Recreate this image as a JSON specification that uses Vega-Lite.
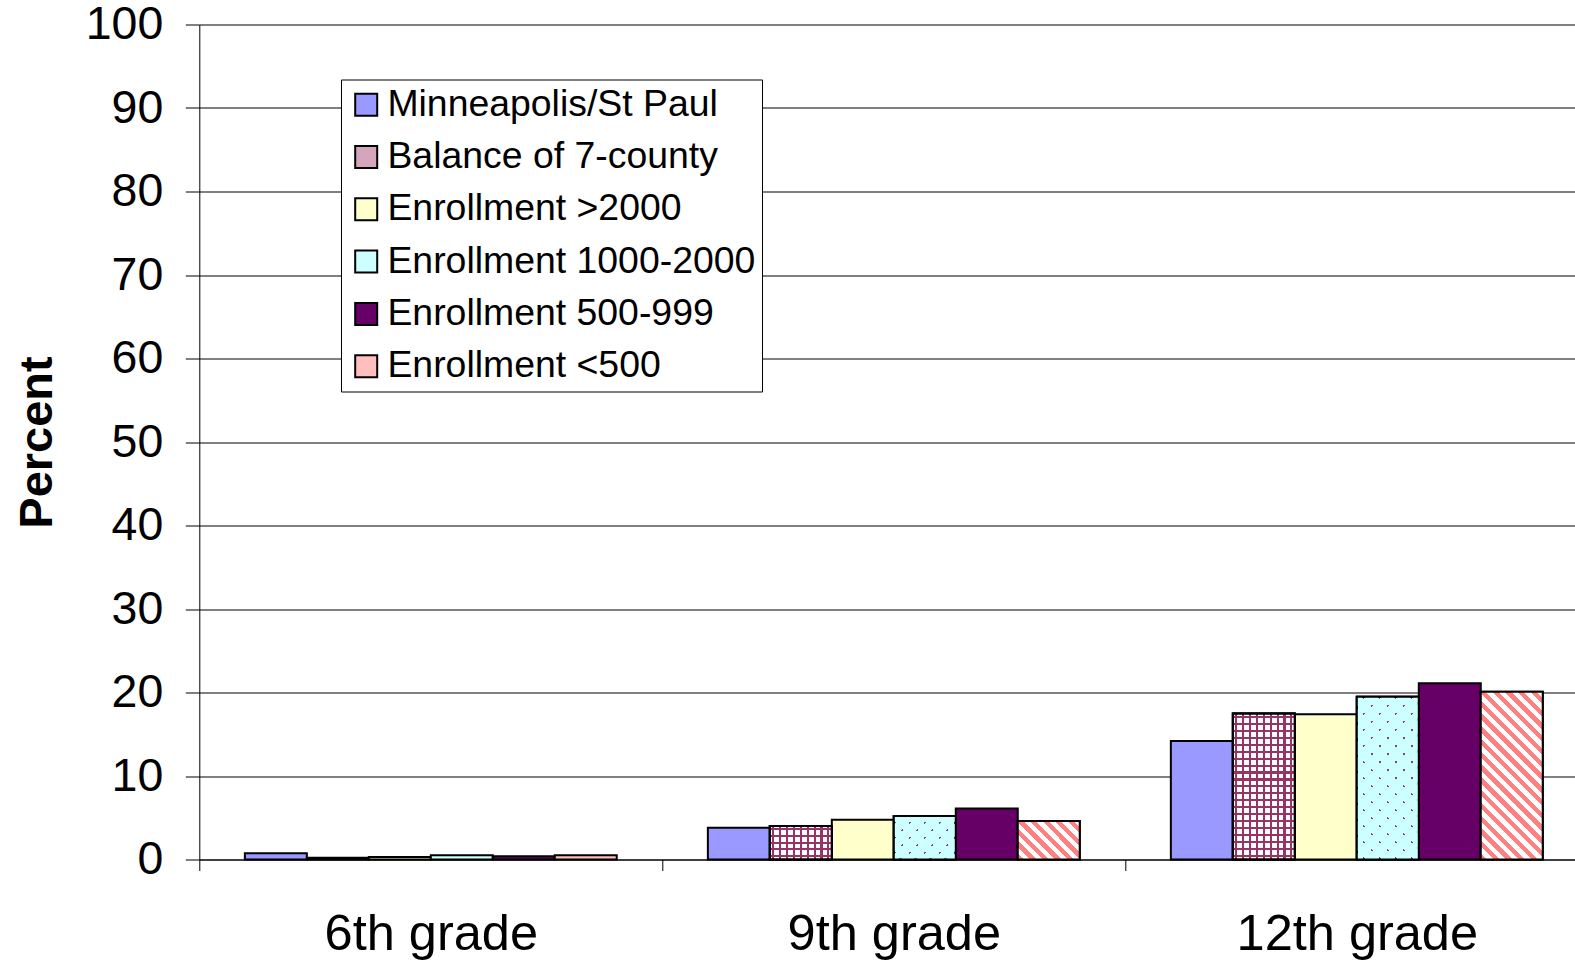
{
  "$schema": "https://vega.github.io/schema/vega-lite/v6.json",
  "width": 1375.7,
  "height": 835,
  "autosize": {"type": "none"},
  "padding": {"left": 199.3, "top": 24.5, "right": 0, "bottom": 101.5},
  "config": {"view": {"stroke": null}, "font": "Liberation Sans"},
  "data": {"values": [
    {"grade": "6th grade", "group": "Minneapolis/St Paul", "value": 0.75},
    {"grade": "6th grade", "group": "Balance of 7-county", "value": 0.2},
    {"grade": "6th grade", "group": "Enrollment >2000", "value": 0.3},
    {"grade": "6th grade", "group": "Enrollment 1000-2000", "value": 0.5},
    {"grade": "6th grade", "group": "Enrollment 500-999", "value": 0.4},
    {"grade": "6th grade", "group": "Enrollment <500", "value": 0.5},
    {"grade": "9th grade", "group": "Minneapolis/St Paul", "value": 3.8},
    {"grade": "9th grade", "group": "Balance of 7-county", "value": 4.0},
    {"grade": "9th grade", "group": "Enrollment >2000", "value": 4.75},
    {"grade": "9th grade", "group": "Enrollment 1000-2000", "value": 5.2},
    {"grade": "9th grade", "group": "Enrollment 500-999", "value": 6.1},
    {"grade": "9th grade", "group": "Enrollment <500", "value": 4.6},
    {"grade": "12th grade", "group": "Minneapolis/St Paul", "value": 14.2},
    {"grade": "12th grade", "group": "Balance of 7-county", "value": 17.5},
    {"grade": "12th grade", "group": "Enrollment >2000", "value": 17.4},
    {"grade": "12th grade", "group": "Enrollment 1000-2000", "value": 19.5},
    {"grade": "12th grade", "group": "Enrollment 500-999", "value": 21.1},
    {"grade": "12th grade", "group": "Enrollment <500", "value": 20.1}
  ]},
  "encoding": {
    "x": {
      "field": "grade", "type": "nominal",
      "sort": ["6th grade", "9th grade", "12th grade"],
      "scale": {"paddingInner": 0, "paddingOuter": 0, "range": [0, 1389]},
      "axis": {"title": null, "labelAngle": 0, "labelFontSize": 50.5, "labelColor": "black", "labelLimit": 0,
               "domainColor": "black", "tickColor": "black", "tickSize": 11, "tickBand": "extent",
               "labelPadding": 38.5, "grid": false}
    },
    "xOffset": {
      "field": "group", "type": "nominal",
      "sort": ["Minneapolis/St Paul", "Balance of 7-county", "Enrollment >2000", "Enrollment 1000-2000", "Enrollment 500-999", "Enrollment <500"],
      "scale": {"paddingInner": 0, "paddingOuter": 0.735}
    },
    "y": {
      "field": "value", "type": "quantitative",
      "scale": {"domain": [0, 100]},
      "axis": {"title": "Percent", "titleFontSize": 47, "titleFontWeight": "bold", "titleColor": "black",
               "titlePadding": 24, "labelFontSize": 46.5, "labelColor": "black", "tickSize": 14,
               "labelPadding": 22.5, "values": [0, 10, 20, 30, 40, 50, 60, 70, 80, 90, 100],
               "gridColor": "black", "gridOpacity": 1, "domainColor": "black", "tickColor": "black"}
    }
  },
  "layer": [
    {
      "mark": {"type": "bar", "stroke": "black", "strokeWidth": 2},
      "encoding": {
        "fill": {
          "field": "group", "type": "nominal",
          "scale": {
            "domain": ["Minneapolis/St Paul", "Balance of 7-county", "Enrollment >2000", "Enrollment 1000-2000", "Enrollment 500-999", "Enrollment <500"],
            "range": ["#9999ff", "#d4a6bd", "#ffffcc", "#ccffff", "#660066", "#ffbfbf"]
          },
          "legend": {"orient": "none", "legendX": 141.7, "legendY": 55, "title": null,
                     "labelFontSize": 37.4, "labelColor": "black", "symbolType": "square",
                     "symbolSize": 484, "symbolStrokeColor": "black", "symbolStrokeWidth": 2,
                     "fillColor": "white", "strokeColor": "black", "padding": 6.5,
                     "rowPadding": 13.3, "labelOffset": 2.5, "labelLimit": 0}
        }
      }
    },
    {
      "transform": [{"filter": "datum.group === 'Enrollment <500' && datum.grade === '12th grade'"}],
      "mark": {"type": "bar", "stroke": "black", "strokeWidth": 2,
        "fill": {"gradient": "linear", "x1": 0, "y1": 1, "x2": 0.4452, "y2": -0.205, "stops": [
          {"offset": 0, "color": "#ff8080"}, {"offset": 0.0278, "color": "#ff8080"}, {"offset": 0.0278, "color": "#ffffff"}, {"offset": 0.0556, "color": "#ffffff"},
          {"offset": 0.0556, "color": "#ff8080"}, {"offset": 0.0833, "color": "#ff8080"}, {"offset": 0.0833, "color": "#ffffff"}, {"offset": 0.1111, "color": "#ffffff"},
          {"offset": 0.1111, "color": "#ff8080"}, {"offset": 0.1389, "color": "#ff8080"}, {"offset": 0.1389, "color": "#ffffff"}, {"offset": 0.1667, "color": "#ffffff"},
          {"offset": 0.1667, "color": "#ff8080"}, {"offset": 0.1944, "color": "#ff8080"}, {"offset": 0.1944, "color": "#ffffff"}, {"offset": 0.2222, "color": "#ffffff"},
          {"offset": 0.2222, "color": "#ff8080"}, {"offset": 0.25, "color": "#ff8080"}, {"offset": 0.25, "color": "#ffffff"}, {"offset": 0.2778, "color": "#ffffff"},
          {"offset": 0.2778, "color": "#ff8080"}, {"offset": 0.3056, "color": "#ff8080"}, {"offset": 0.3056, "color": "#ffffff"}, {"offset": 0.3333, "color": "#ffffff"},
          {"offset": 0.3333, "color": "#ff8080"}, {"offset": 0.3611, "color": "#ff8080"}, {"offset": 0.3611, "color": "#ffffff"}, {"offset": 0.3889, "color": "#ffffff"},
          {"offset": 0.3889, "color": "#ff8080"}, {"offset": 0.4167, "color": "#ff8080"}, {"offset": 0.4167, "color": "#ffffff"}, {"offset": 0.4444, "color": "#ffffff"},
          {"offset": 0.4444, "color": "#ff8080"}, {"offset": 0.4722, "color": "#ff8080"}, {"offset": 0.4722, "color": "#ffffff"}, {"offset": 0.5, "color": "#ffffff"},
          {"offset": 0.5, "color": "#ff8080"}, {"offset": 0.5278, "color": "#ff8080"}, {"offset": 0.5278, "color": "#ffffff"}, {"offset": 0.5556, "color": "#ffffff"},
          {"offset": 0.5556, "color": "#ff8080"}, {"offset": 0.5833, "color": "#ff8080"}, {"offset": 0.5833, "color": "#ffffff"}, {"offset": 0.6111, "color": "#ffffff"},
          {"offset": 0.6111, "color": "#ff8080"}, {"offset": 0.6389, "color": "#ff8080"}, {"offset": 0.6389, "color": "#ffffff"}, {"offset": 0.6667, "color": "#ffffff"},
          {"offset": 0.6667, "color": "#ff8080"}, {"offset": 0.6944, "color": "#ff8080"}, {"offset": 0.6944, "color": "#ffffff"}, {"offset": 0.7222, "color": "#ffffff"},
          {"offset": 0.7222, "color": "#ff8080"}, {"offset": 0.75, "color": "#ff8080"}, {"offset": 0.75, "color": "#ffffff"}, {"offset": 0.7778, "color": "#ffffff"},
          {"offset": 0.7778, "color": "#ff8080"}, {"offset": 0.8056, "color": "#ff8080"}, {"offset": 0.8056, "color": "#ffffff"}, {"offset": 0.8333, "color": "#ffffff"},
          {"offset": 0.8333, "color": "#ff8080"}, {"offset": 0.8611, "color": "#ff8080"}, {"offset": 0.8611, "color": "#ffffff"}, {"offset": 0.8889, "color": "#ffffff"},
          {"offset": 0.8889, "color": "#ff8080"}, {"offset": 0.9167, "color": "#ff8080"}, {"offset": 0.9167, "color": "#ffffff"}, {"offset": 0.9444, "color": "#ffffff"},
          {"offset": 0.9444, "color": "#ff8080"}, {"offset": 0.9722, "color": "#ff8080"}, {"offset": 0.9722, "color": "#ffffff"}, {"offset": 1, "color": "#ffffff"}
        ]}}
    },
    {
      "transform": [{"filter": "datum.group === 'Enrollment <500' && datum.grade === '9th grade'"}],
      "mark": {"type": "bar", "stroke": "black", "strokeWidth": 2,
        "fill": {"gradient": "linear", "x1": 0, "y1": 1, "x2": 1.1703, "y2": 0.2752, "stops": [
          {"offset": 0, "color": "#ff8080"}, {"offset": 0.0625, "color": "#ff8080"}, {"offset": 0.0625, "color": "#ffffff"}, {"offset": 0.125, "color": "#ffffff"},
          {"offset": 0.125, "color": "#ff8080"}, {"offset": 0.1875, "color": "#ff8080"}, {"offset": 0.1875, "color": "#ffffff"}, {"offset": 0.25, "color": "#ffffff"},
          {"offset": 0.25, "color": "#ff8080"}, {"offset": 0.3125, "color": "#ff8080"}, {"offset": 0.3125, "color": "#ffffff"}, {"offset": 0.375, "color": "#ffffff"},
          {"offset": 0.375, "color": "#ff8080"}, {"offset": 0.4375, "color": "#ff8080"}, {"offset": 0.4375, "color": "#ffffff"}, {"offset": 0.5, "color": "#ffffff"},
          {"offset": 0.5, "color": "#ff8080"}, {"offset": 0.5625, "color": "#ff8080"}, {"offset": 0.5625, "color": "#ffffff"}, {"offset": 0.625, "color": "#ffffff"},
          {"offset": 0.625, "color": "#ff8080"}, {"offset": 0.6875, "color": "#ff8080"}, {"offset": 0.6875, "color": "#ffffff"}, {"offset": 0.75, "color": "#ffffff"},
          {"offset": 0.75, "color": "#ff8080"}, {"offset": 0.8125, "color": "#ff8080"}, {"offset": 0.8125, "color": "#ffffff"}, {"offset": 0.875, "color": "#ffffff"},
          {"offset": 0.875, "color": "#ff8080"}, {"offset": 0.9375, "color": "#ff8080"}, {"offset": 0.9375, "color": "#ffffff"}, {"offset": 1, "color": "#ffffff"}
        ]}}
    },
    {
      "transform": [{"filter": "datum.group === 'Balance of 7-county' && datum.grade !== '6th grade'"}],
      "mark": {"type": "bar", "stroke": "black", "strokeWidth": 2,
        "fill": {"gradient": "linear", "x1": 0, "y1": 0, "x2": 1, "y2": 0, "stops": [
          {"offset": 0, "color": "#ffffff"},
          {"offset": 0.0389, "color": "#ffffff"}, {"offset": 0.0389, "color": "#993366"}, {"offset": 0.0722, "color": "#993366"}, {"offset": 0.0722, "color": "#ffffff"},
          {"offset": 0.15, "color": "#ffffff"}, {"offset": 0.15, "color": "#993366"}, {"offset": 0.1833, "color": "#993366"}, {"offset": 0.1833, "color": "#ffffff"},
          {"offset": 0.2611, "color": "#ffffff"}, {"offset": 0.2611, "color": "#993366"}, {"offset": 0.2944, "color": "#993366"}, {"offset": 0.2944, "color": "#ffffff"},
          {"offset": 0.3722, "color": "#ffffff"}, {"offset": 0.3722, "color": "#993366"}, {"offset": 0.4056, "color": "#993366"}, {"offset": 0.4056, "color": "#ffffff"},
          {"offset": 0.4833, "color": "#ffffff"}, {"offset": 0.4833, "color": "#993366"}, {"offset": 0.5167, "color": "#993366"}, {"offset": 0.5167, "color": "#ffffff"},
          {"offset": 0.5944, "color": "#ffffff"}, {"offset": 0.5944, "color": "#993366"}, {"offset": 0.6278, "color": "#993366"}, {"offset": 0.6278, "color": "#ffffff"},
          {"offset": 0.7056, "color": "#ffffff"}, {"offset": 0.7056, "color": "#993366"}, {"offset": 0.7389, "color": "#993366"}, {"offset": 0.7389, "color": "#ffffff"},
          {"offset": 0.8167, "color": "#ffffff"}, {"offset": 0.8167, "color": "#993366"}, {"offset": 0.85, "color": "#993366"}, {"offset": 0.85, "color": "#ffffff"},
          {"offset": 0.9278, "color": "#ffffff"}, {"offset": 0.9278, "color": "#993366"}, {"offset": 0.9611, "color": "#993366"}, {"offset": 0.9611, "color": "#ffffff"},
          {"offset": 1, "color": "#ffffff"}
        ]}}
    },
    {
      "transform": [{"filter": "datum.group === 'Balance of 7-county' && datum.grade === '12th grade'"}],
      "mark": {"type": "bar", "stroke": "black", "strokeWidth": 2,
        "fill": {"gradient": "linear", "x1": 0, "y1": 0, "x2": 0, "y2": 1, "stops": [
          {"offset": 0, "color": "rgba(255,255,255,0)"},
          {"offset": 0.0167, "color": "rgba(255,255,255,0)"}, {"offset": 0.0167, "color": "#993366"}, {"offset": 0.031, "color": "#993366"}, {"offset": 0.031, "color": "rgba(255,255,255,0)"},
          {"offset": 0.0643, "color": "rgba(255,255,255,0)"}, {"offset": 0.0643, "color": "#993366"}, {"offset": 0.0786, "color": "#993366"}, {"offset": 0.0786, "color": "rgba(255,255,255,0)"},
          {"offset": 0.1119, "color": "rgba(255,255,255,0)"}, {"offset": 0.1119, "color": "#993366"}, {"offset": 0.1262, "color": "#993366"}, {"offset": 0.1262, "color": "rgba(255,255,255,0)"},
          {"offset": 0.1595, "color": "rgba(255,255,255,0)"}, {"offset": 0.1595, "color": "#993366"}, {"offset": 0.1738, "color": "#993366"}, {"offset": 0.1738, "color": "rgba(255,255,255,0)"},
          {"offset": 0.2071, "color": "rgba(255,255,255,0)"}, {"offset": 0.2071, "color": "#993366"}, {"offset": 0.2214, "color": "#993366"}, {"offset": 0.2214, "color": "rgba(255,255,255,0)"},
          {"offset": 0.2548, "color": "rgba(255,255,255,0)"}, {"offset": 0.2548, "color": "#993366"}, {"offset": 0.269, "color": "#993366"}, {"offset": 0.269, "color": "rgba(255,255,255,0)"},
          {"offset": 0.3024, "color": "rgba(255,255,255,0)"}, {"offset": 0.3024, "color": "#993366"}, {"offset": 0.3167, "color": "#993366"}, {"offset": 0.3167, "color": "rgba(255,255,255,0)"},
          {"offset": 0.35, "color": "rgba(255,255,255,0)"}, {"offset": 0.35, "color": "#993366"}, {"offset": 0.3643, "color": "#993366"}, {"offset": 0.3643, "color": "rgba(255,255,255,0)"},
          {"offset": 0.3976, "color": "rgba(255,255,255,0)"}, {"offset": 0.3976, "color": "#993366"}, {"offset": 0.4119, "color": "#993366"}, {"offset": 0.4119, "color": "rgba(255,255,255,0)"},
          {"offset": 0.4452, "color": "rgba(255,255,255,0)"}, {"offset": 0.4452, "color": "#993366"}, {"offset": 0.4595, "color": "#993366"}, {"offset": 0.4595, "color": "rgba(255,255,255,0)"},
          {"offset": 0.4929, "color": "rgba(255,255,255,0)"}, {"offset": 0.4929, "color": "#993366"}, {"offset": 0.5071, "color": "#993366"}, {"offset": 0.5071, "color": "rgba(255,255,255,0)"},
          {"offset": 0.5405, "color": "rgba(255,255,255,0)"}, {"offset": 0.5405, "color": "#993366"}, {"offset": 0.5548, "color": "#993366"}, {"offset": 0.5548, "color": "rgba(255,255,255,0)"},
          {"offset": 0.5881, "color": "rgba(255,255,255,0)"}, {"offset": 0.5881, "color": "#993366"}, {"offset": 0.6024, "color": "#993366"}, {"offset": 0.6024, "color": "rgba(255,255,255,0)"},
          {"offset": 0.6357, "color": "rgba(255,255,255,0)"}, {"offset": 0.6357, "color": "#993366"}, {"offset": 0.65, "color": "#993366"}, {"offset": 0.65, "color": "rgba(255,255,255,0)"},
          {"offset": 0.6833, "color": "rgba(255,255,255,0)"}, {"offset": 0.6833, "color": "#993366"}, {"offset": 0.6976, "color": "#993366"}, {"offset": 0.6976, "color": "rgba(255,255,255,0)"},
          {"offset": 0.731, "color": "rgba(255,255,255,0)"}, {"offset": 0.731, "color": "#993366"}, {"offset": 0.7452, "color": "#993366"}, {"offset": 0.7452, "color": "rgba(255,255,255,0)"},
          {"offset": 0.7786, "color": "rgba(255,255,255,0)"}, {"offset": 0.7786, "color": "#993366"}, {"offset": 0.7929, "color": "#993366"}, {"offset": 0.7929, "color": "rgba(255,255,255,0)"},
          {"offset": 0.8262, "color": "rgba(255,255,255,0)"}, {"offset": 0.8262, "color": "#993366"}, {"offset": 0.8405, "color": "#993366"}, {"offset": 0.8405, "color": "rgba(255,255,255,0)"},
          {"offset": 0.8738, "color": "rgba(255,255,255,0)"}, {"offset": 0.8738, "color": "#993366"}, {"offset": 0.8881, "color": "#993366"}, {"offset": 0.8881, "color": "rgba(255,255,255,0)"},
          {"offset": 0.9214, "color": "rgba(255,255,255,0)"}, {"offset": 0.9214, "color": "#993366"}, {"offset": 0.9357, "color": "#993366"}, {"offset": 0.9357, "color": "rgba(255,255,255,0)"},
          {"offset": 0.969, "color": "rgba(255,255,255,0)"}, {"offset": 0.969, "color": "#993366"}, {"offset": 0.9833, "color": "#993366"}, {"offset": 0.9833, "color": "rgba(255,255,255,0)"},
          {"offset": 1, "color": "rgba(255,255,255,0)"}
        ]}}
    },
    {
      "transform": [{"filter": "datum.group === 'Balance of 7-county' && datum.grade === '9th grade'"}],
      "mark": {"type": "bar", "stroke": "black", "strokeWidth": 2,
        "fill": {"gradient": "linear", "x1": 0, "y1": 0, "x2": 0, "y2": 1, "stops": [
          {"offset": 0, "color": "rgba(255,255,255,0)"},
          {"offset": 0.07, "color": "rgba(255,255,255,0)"}, {"offset": 0.07, "color": "#993366"}, {"offset": 0.13, "color": "#993366"}, {"offset": 0.13, "color": "rgba(255,255,255,0)"},
          {"offset": 0.27, "color": "rgba(255,255,255,0)"}, {"offset": 0.27, "color": "#993366"}, {"offset": 0.33, "color": "#993366"}, {"offset": 0.33, "color": "rgba(255,255,255,0)"},
          {"offset": 0.47, "color": "rgba(255,255,255,0)"}, {"offset": 0.47, "color": "#993366"}, {"offset": 0.53, "color": "#993366"}, {"offset": 0.53, "color": "rgba(255,255,255,0)"},
          {"offset": 0.67, "color": "rgba(255,255,255,0)"}, {"offset": 0.67, "color": "#993366"}, {"offset": 0.73, "color": "#993366"}, {"offset": 0.73, "color": "rgba(255,255,255,0)"},
          {"offset": 0.87, "color": "rgba(255,255,255,0)"}, {"offset": 0.87, "color": "#993366"}, {"offset": 0.93, "color": "#993366"}, {"offset": 0.93, "color": "rgba(255,255,255,0)"},
          {"offset": 1, "color": "rgba(255,255,255,0)"}
        ]}}
    },
    {
      "transform": [{"filter": "datum.group === 'Enrollment 1000-2000' && datum.grade === '12th grade'"}],
      "mark": {"type": "bar", "stroke": "black", "strokeWidth": 2,
        "fill": {"gradient": "linear", "x1": 0, "y1": 0, "x2": 0.4593, "y2": 1.2059, "stops": [
          {"offset": 0, "color": "#ccffff"},
          {"offset": 0.03, "color": "#ccffff"}, {"offset": 0.03, "color": "#993399"}, {"offset": 0.0414, "color": "#993399"}, {"offset": 0.0414, "color": "#ccffff"},
          {"offset": 0.1014, "color": "#ccffff"}, {"offset": 0.1014, "color": "#993399"}, {"offset": 0.1129, "color": "#993399"}, {"offset": 0.1129, "color": "#ccffff"},
          {"offset": 0.1729, "color": "#ccffff"}, {"offset": 0.1729, "color": "#993399"}, {"offset": 0.1843, "color": "#993399"}, {"offset": 0.1843, "color": "#ccffff"},
          {"offset": 0.2443, "color": "#ccffff"}, {"offset": 0.2443, "color": "#993399"}, {"offset": 0.2557, "color": "#993399"}, {"offset": 0.2557, "color": "#ccffff"},
          {"offset": 0.3157, "color": "#ccffff"}, {"offset": 0.3157, "color": "#993399"}, {"offset": 0.3271, "color": "#993399"}, {"offset": 0.3271, "color": "#ccffff"},
          {"offset": 0.3871, "color": "#ccffff"}, {"offset": 0.3871, "color": "#993399"}, {"offset": 0.3986, "color": "#993399"}, {"offset": 0.3986, "color": "#ccffff"},
          {"offset": 0.4586, "color": "#ccffff"}, {"offset": 0.4586, "color": "#993399"}, {"offset": 0.47, "color": "#993399"}, {"offset": 0.47, "color": "#ccffff"},
          {"offset": 0.53, "color": "#ccffff"}, {"offset": 0.53, "color": "#993399"}, {"offset": 0.5414, "color": "#993399"}, {"offset": 0.5414, "color": "#ccffff"},
          {"offset": 0.6014, "color": "#ccffff"}, {"offset": 0.6014, "color": "#993399"}, {"offset": 0.6129, "color": "#993399"}, {"offset": 0.6129, "color": "#ccffff"},
          {"offset": 0.6729, "color": "#ccffff"}, {"offset": 0.6729, "color": "#993399"}, {"offset": 0.6843, "color": "#993399"}, {"offset": 0.6843, "color": "#ccffff"},
          {"offset": 0.7443, "color": "#ccffff"}, {"offset": 0.7443, "color": "#993399"}, {"offset": 0.7557, "color": "#993399"}, {"offset": 0.7557, "color": "#ccffff"},
          {"offset": 0.8157, "color": "#ccffff"}, {"offset": 0.8157, "color": "#993399"}, {"offset": 0.8271, "color": "#993399"}, {"offset": 0.8271, "color": "#ccffff"},
          {"offset": 0.8871, "color": "#ccffff"}, {"offset": 0.8871, "color": "#993399"}, {"offset": 0.8986, "color": "#993399"}, {"offset": 0.8986, "color": "#ccffff"},
          {"offset": 0.9586, "color": "#ccffff"}, {"offset": 0.9586, "color": "#993399"}, {"offset": 0.97, "color": "#993399"}, {"offset": 0.97, "color": "#ccffff"},
          {"offset": 1, "color": "#ccffff"}
        ]}}
    },
    {
      "transform": [{"filter": "datum.group === 'Enrollment 1000-2000' && datum.grade === '12th grade'"}],
      "mark": {"type": "bar", "stroke": "black", "strokeWidth": 2,
        "fill": {"gradient": "linear", "x1": 0, "y1": 1, "x2": 0.4593, "y2": -0.2059, "stops": [
          {"offset": 0, "color": "#ccffff"},
          {"offset": 0.03, "color": "#ccffff"}, {"offset": 0.03, "color": "rgba(204,255,255,0)"}, {"offset": 0.0414, "color": "rgba(204,255,255,0)"}, {"offset": 0.0414, "color": "#ccffff"},
          {"offset": 0.1014, "color": "#ccffff"}, {"offset": 0.1014, "color": "rgba(204,255,255,0)"}, {"offset": 0.1129, "color": "rgba(204,255,255,0)"}, {"offset": 0.1129, "color": "#ccffff"},
          {"offset": 0.1729, "color": "#ccffff"}, {"offset": 0.1729, "color": "rgba(204,255,255,0)"}, {"offset": 0.1843, "color": "rgba(204,255,255,0)"}, {"offset": 0.1843, "color": "#ccffff"},
          {"offset": 0.2443, "color": "#ccffff"}, {"offset": 0.2443, "color": "rgba(204,255,255,0)"}, {"offset": 0.2557, "color": "rgba(204,255,255,0)"}, {"offset": 0.2557, "color": "#ccffff"},
          {"offset": 0.3157, "color": "#ccffff"}, {"offset": 0.3157, "color": "rgba(204,255,255,0)"}, {"offset": 0.3271, "color": "rgba(204,255,255,0)"}, {"offset": 0.3271, "color": "#ccffff"},
          {"offset": 0.3871, "color": "#ccffff"}, {"offset": 0.3871, "color": "rgba(204,255,255,0)"}, {"offset": 0.3986, "color": "rgba(204,255,255,0)"}, {"offset": 0.3986, "color": "#ccffff"},
          {"offset": 0.4586, "color": "#ccffff"}, {"offset": 0.4586, "color": "rgba(204,255,255,0)"}, {"offset": 0.47, "color": "rgba(204,255,255,0)"}, {"offset": 0.47, "color": "#ccffff"},
          {"offset": 0.53, "color": "#ccffff"}, {"offset": 0.53, "color": "rgba(204,255,255,0)"}, {"offset": 0.5414, "color": "rgba(204,255,255,0)"}, {"offset": 0.5414, "color": "#ccffff"},
          {"offset": 0.6014, "color": "#ccffff"}, {"offset": 0.6014, "color": "rgba(204,255,255,0)"}, {"offset": 0.6129, "color": "rgba(204,255,255,0)"}, {"offset": 0.6129, "color": "#ccffff"},
          {"offset": 0.6729, "color": "#ccffff"}, {"offset": 0.6729, "color": "rgba(204,255,255,0)"}, {"offset": 0.6843, "color": "rgba(204,255,255,0)"}, {"offset": 0.6843, "color": "#ccffff"},
          {"offset": 0.7443, "color": "#ccffff"}, {"offset": 0.7443, "color": "rgba(204,255,255,0)"}, {"offset": 0.7557, "color": "rgba(204,255,255,0)"}, {"offset": 0.7557, "color": "#ccffff"},
          {"offset": 0.8157, "color": "#ccffff"}, {"offset": 0.8157, "color": "rgba(204,255,255,0)"}, {"offset": 0.8271, "color": "rgba(204,255,255,0)"}, {"offset": 0.8271, "color": "#ccffff"},
          {"offset": 0.8871, "color": "#ccffff"}, {"offset": 0.8871, "color": "rgba(204,255,255,0)"}, {"offset": 0.8986, "color": "rgba(204,255,255,0)"}, {"offset": 0.8986, "color": "#ccffff"},
          {"offset": 0.9586, "color": "#ccffff"}, {"offset": 0.9586, "color": "rgba(204,255,255,0)"}, {"offset": 0.97, "color": "rgba(204,255,255,0)"}, {"offset": 0.97, "color": "#ccffff"},
          {"offset": 1, "color": "#ccffff"}
        ]}}
    },
    {
      "transform": [{"filter": "datum.group === 'Enrollment 1000-2000' && datum.grade === '9th grade'"}],
      "mark": {"type": "bar", "stroke": "black", "strokeWidth": 2,
        "fill": {"gradient": "linear", "x1": 0, "y1": 0, "x2": 1.1408, "y2": 0.7986, "stops": [
          {"offset": 0, "color": "#ccffff"},
          {"offset": 0.06, "color": "#ccffff"}, {"offset": 0.06, "color": "#993399"}, {"offset": 0.0829, "color": "#993399"}, {"offset": 0.0829, "color": "#ccffff"},
          {"offset": 0.2029, "color": "#ccffff"}, {"offset": 0.2029, "color": "#993399"}, {"offset": 0.2257, "color": "#993399"}, {"offset": 0.2257, "color": "#ccffff"},
          {"offset": 0.3457, "color": "#ccffff"}, {"offset": 0.3457, "color": "#993399"}, {"offset": 0.3686, "color": "#993399"}, {"offset": 0.3686, "color": "#ccffff"},
          {"offset": 0.4886, "color": "#ccffff"}, {"offset": 0.4886, "color": "#993399"}, {"offset": 0.5114, "color": "#993399"}, {"offset": 0.5114, "color": "#ccffff"},
          {"offset": 0.6314, "color": "#ccffff"}, {"offset": 0.6314, "color": "#993399"}, {"offset": 0.6543, "color": "#993399"}, {"offset": 0.6543, "color": "#ccffff"},
          {"offset": 0.7743, "color": "#ccffff"}, {"offset": 0.7743, "color": "#993399"}, {"offset": 0.7971, "color": "#993399"}, {"offset": 0.7971, "color": "#ccffff"},
          {"offset": 0.9171, "color": "#ccffff"}, {"offset": 0.9171, "color": "#993399"}, {"offset": 0.94, "color": "#993399"}, {"offset": 0.94, "color": "#ccffff"},
          {"offset": 1, "color": "#ccffff"}
        ]}}
    },
    {
      "transform": [{"filter": "datum.group === 'Enrollment 1000-2000' && datum.grade === '9th grade'"}],
      "mark": {"type": "bar", "stroke": "black", "strokeWidth": 2,
        "fill": {"gradient": "linear", "x1": 0, "y1": 1, "x2": 1.1408, "y2": 0.2014, "stops": [
          {"offset": 0, "color": "#ccffff"},
          {"offset": 0.06, "color": "#ccffff"}, {"offset": 0.06, "color": "rgba(204,255,255,0)"}, {"offset": 0.0829, "color": "rgba(204,255,255,0)"}, {"offset": 0.0829, "color": "#ccffff"},
          {"offset": 0.2029, "color": "#ccffff"}, {"offset": 0.2029, "color": "rgba(204,255,255,0)"}, {"offset": 0.2257, "color": "rgba(204,255,255,0)"}, {"offset": 0.2257, "color": "#ccffff"},
          {"offset": 0.3457, "color": "#ccffff"}, {"offset": 0.3457, "color": "rgba(204,255,255,0)"}, {"offset": 0.3686, "color": "rgba(204,255,255,0)"}, {"offset": 0.3686, "color": "#ccffff"},
          {"offset": 0.4886, "color": "#ccffff"}, {"offset": 0.4886, "color": "rgba(204,255,255,0)"}, {"offset": 0.5114, "color": "rgba(204,255,255,0)"}, {"offset": 0.5114, "color": "#ccffff"},
          {"offset": 0.6314, "color": "#ccffff"}, {"offset": 0.6314, "color": "rgba(204,255,255,0)"}, {"offset": 0.6543, "color": "rgba(204,255,255,0)"}, {"offset": 0.6543, "color": "#ccffff"},
          {"offset": 0.7743, "color": "#ccffff"}, {"offset": 0.7743, "color": "rgba(204,255,255,0)"}, {"offset": 0.7971, "color": "rgba(204,255,255,0)"}, {"offset": 0.7971, "color": "#ccffff"},
          {"offset": 0.9171, "color": "#ccffff"}, {"offset": 0.9171, "color": "rgba(204,255,255,0)"}, {"offset": 0.94, "color": "rgba(204,255,255,0)"}, {"offset": 0.94, "color": "#ccffff"},
          {"offset": 1, "color": "#ccffff"}
        ]}}
    }
  ]
}
